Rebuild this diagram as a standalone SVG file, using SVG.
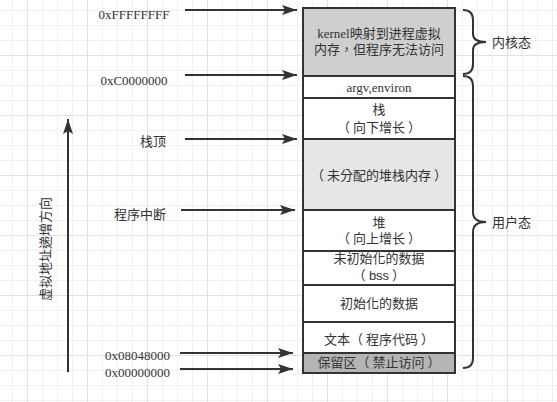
<svg xmlns="http://www.w3.org/2000/svg" width="557" height="402" viewBox="0 0 557 402">
<defs>
<pattern id="grid" patternUnits="userSpaceOnUse" x="27" y="55" width="60" height="60">
<path d="M15.5,0V60M30.5,0V60M45.5,0V60M0,15.5H60M0,30.5H60M0,45.5H60" stroke="#f0f0f0" stroke-width="1" fill="none"/>
<path d="M0.5,0V60M0,0.5H60" stroke="#e2e2e2" stroke-width="1" fill="none"/>
</pattern>
<marker id="ah" markerUnits="userSpaceOnUse" markerWidth="16" markerHeight="12" refX="15" refY="5" orient="auto" viewBox="0 0 16 10">
<path d="M0,0 L15,5 L0,10 L3,5 z" fill="#333"/>
</marker>
<style>
.cn{font-family:"Liberation Sans","Noto Sans CJK TC",sans-serif;font-size:13px;fill:#333}
.sf{font-family:"Liberation Serif","Noto Sans CJK TC",serif;font-size:13px;fill:#333}
.seg{stroke:#333;stroke-width:2}
.ln{stroke:#333;stroke-width:2;fill:none}
.mid{text-anchor:middle}
</style>
</defs>
<rect width="557" height="402" fill="#fff"/>
<rect width="557" height="402" fill="url(#grid)"/>

<g id="memory">
<g id="kernel">
<rect x="303" y="8" width="152" height="68" fill="#cfcfcf" class="seg"/>
<text class="sf mid" x="379" y="38">kernel映射到进程虚拟</text>
<text class="cn mid" x="379" y="54">内存，但程序无法访问</text>
</g>
<g id="argv">
<rect x="303" y="76" width="152" height="22" fill="#fff" class="seg"/>
<text class="sf mid" x="379" y="91.5">argv,environ</text>
</g>
<g id="stack">
<rect x="303" y="98" width="152" height="41" fill="#fff" class="seg"/>
<text class="cn mid" x="379" y="114">栈</text>
<text class="cn mid" x="379" y="132">（<tspan dx="3">向下增长</tspan><tspan dx="3">）</tspan></text>
</g>
<g id="unallocated">
<rect x="303" y="139" width="152" height="71" fill="#e6e6e6" class="seg"/>
<text class="cn mid" x="379" y="180">（<tspan dx="3">未分配的堆栈内存</tspan><tspan dx="3">）</tspan></text>
</g>
<g id="heap">
<rect x="303" y="210" width="152" height="41" fill="#fff" class="seg"/>
<text class="cn mid" x="379" y="227">堆</text>
<text class="cn mid" x="379" y="243">（<tspan dx="3">向上增长</tspan><tspan dx="3">）</tspan></text>
</g>
<g id="bss">
<rect x="303" y="251" width="152" height="34" fill="#fff" class="seg"/>
<text class="cn mid" x="379" y="263">未初始化的数据</text>
<text class="cn mid" x="379" y="280">（<tspan dx="3">bss</tspan><tspan dx="3">）</tspan></text>
</g>
<g id="data">
<rect x="303" y="285" width="152" height="37" fill="#fff" class="seg"/>
<text class="cn mid" x="379" y="308">初始化的数据</text>
</g>
<g id="text">
<rect x="303" y="322" width="152" height="31" fill="#fff" class="seg"/>
<text class="cn mid" x="379" y="344">文本（<tspan dx="3">程序代码</tspan><tspan dx="3">）</tspan></text>
</g>
<g id="reserved">
<rect x="303" y="353" width="152" height="20" fill="#b5b5b5" class="seg"/>
<text class="cn mid" x="379" y="367">保留区（<tspan dx="3">禁止访问</tspan><tspan dx="3">）</tspan></text>
</g>
</g>

<g id="labels">
<text class="sf mid" x="134" y="18.5">0xFFFFFFFF</text>
<text class="sf mid" x="134" y="84.5">0xC0000000</text>
<text class="cn" x="140" y="146">栈顶</text>
<text class="cn" x="114" y="219">程序中断</text>
<text class="sf mid" x="137.5" y="359.5">0x08048000</text>
<text class="sf mid" x="137.5" y="376.5">0x00000000</text>
</g>

<g id="connectors">
<line x1="185" y1="10" x2="297" y2="10" class="ln" marker-end="url(#ah)"/>
<line x1="185" y1="75" x2="297" y2="75" class="ln" marker-end="url(#ah)"/>
<line x1="185" y1="139" x2="297" y2="139" class="ln" marker-end="url(#ah)"/>
<line x1="181" y1="210" x2="295" y2="210" class="ln" marker-end="url(#ah)"/>
<line x1="180" y1="353" x2="293" y2="353" class="ln" marker-end="url(#ah)"/>
<line x1="180" y1="369" x2="293" y2="369" class="ln" marker-end="url(#ah)"/>
<line x1="68" y1="372" x2="68" y2="119" class="ln" marker-end="url(#ah)"/>
</g>

<g id="axis-label">
<text class="cn mid" transform="translate(50,249) rotate(-90)">虚拟地址递增方向</text>
</g>

<g id="kernel-mode">
<path class="ln" d="M463,10 C470,10 473,13 473,20 L473,34 C473,39 477,42 486,42 C477,42 473,45 473,50 L473,64 C473,71 470,74 463,74"/>
<text class="cn" x="492" y="47">内核态</text>
</g>
<g id="user-mode">
<path class="ln" d="M463,76 C470,76 473,79 473,86 L473,212 C473,218 477,222 486,222 C477,222 473,226 473,232 L473,358 C473,365 470,368 463,368"/>
<text class="cn" x="492" y="227">用户态</text>
</g>
</svg>
